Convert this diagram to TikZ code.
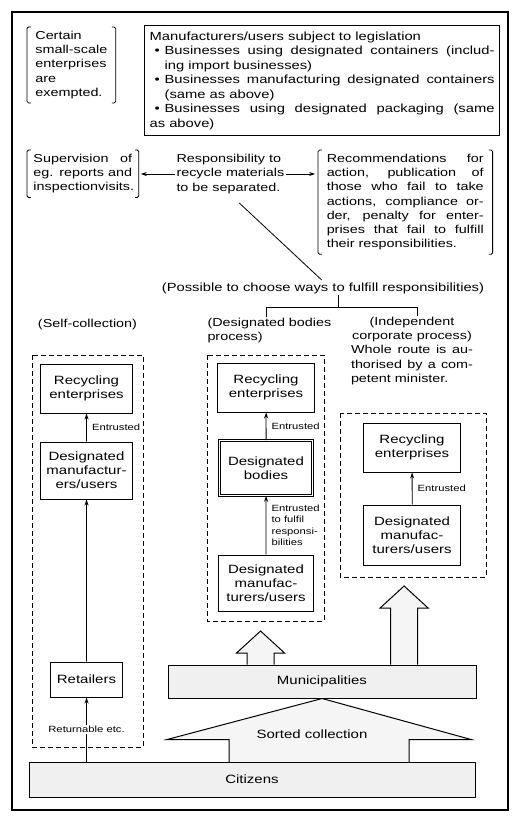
\documentclass[tikz,border=0pt]{standalone}
\usepackage{fontspec}
\setmainfont{Liberation Sans}
\usetikzlibrary{arrows.meta,calc,backgrounds}
\setlength{\parindent}{0pt}
\tolerance=10000
\hbadness=10000
\hyphenpenalty=10000

\newcommand\txtfont{\fontsize{11.5}{14.2}\selectfont}
\newcommand\boxfont{\fontsize{12}{14}\selectfont}
\newcommand\legalfont{\fontsize{11.8}{14.5}\selectfont}
\newcommand\tagfont{\fontsize{9}{11.5}\selectfont}

\tikzset{>={Stealth[length=6pt,width=4pt]}}
\tikzset{
    outerframe/.style={line width=1.3pt},
    unit/.style={draw,line width=1pt,align=center,font=\boxfont,minimum width=73pt,minimum height=49pt,inner sep=1pt},
    twin/.style={unit,line width=0.8pt,double,double distance=1.6pt},
    textblock/.style={align=left,font=\txtfont,inner sep=1pt},
    bracketed/.style={font=\txtfont,inner ysep=4pt},
    brk/.style={line width=0.8pt,rounded corners=1.5pt},
    groupline/.style={line width=0.9pt,dash pattern=on 5pt off 3pt},
    stipple/.style={draw,line width=1pt,fill=black!6,font=\boxfont},
    hollow/.style={line width=1pt,fill=black!4},
    flow/.style={->,line width=0.8pt},
    tag/.style={font=\tagfont,inner sep=1pt,align=left},
}

\newcommand\brackets[1]{%
    \draw[brk] ([xshift=3pt]#1.north west) -- (#1.north west) -- (#1.south west) -- ([xshift=3pt]#1.south west);
    \draw[brk] ([xshift=-3pt]#1.north east) -- (#1.north east) -- (#1.south east) -- ([xshift=-3pt]#1.south east);
}
\newcommand\fatarrow[2]{%
    \draw[hollow] ($(#2)+(-13.5,0)$) |- ($(#1)+(-24,22)$) -- (#1) -- ($(#1)+(24,22)$) -| ($(#2)+(13.5,0)$);
}

\begin{document}
\begin{tikzpicture}[x=0.8pt,y=-1pt,xscale=1.25,every node/.append style={transform shape}]
    \useasboundingbox (0,0) rectangle (520,823);
    \draw[outerframe] (12,12) rectangle (508,810);

    \node[bracketed,align=left,inner xsep=6.5pt,anchor=north west] (exempt) at (27,27)
        {Certain\\small-scale\\enterprises\\are\\exempted.};
    \brackets{exempt}
    \node[draw,line width=1pt,font=\legalfont,text width=276pt,align=justify,inner xsep=4pt,inner ysep=3pt,minimum height=110pt,anchor=north west] (legal) at (144,25)
        {Manufacturers/users subject to legislation\par
        \hangindent=12pt\hangafter=1\makebox[12pt][c]{\textbullet}Businesses using designated containers (includ-\linebreak ing import businesses)\par
        \hangindent=12pt\hangafter=1\makebox[12pt][c]{\textbullet}Businesses manufacturing designated containers\linebreak (same as above)\par
        \hangindent=12pt\hangafter=1\makebox[12pt][c]{\textbullet}Businesses using designated packaging (same\linebreak as above)};

    \node[bracketed,text width=79pt,align=justify,inner xsep=5pt,anchor=north west] (superv) at (27,150)
        {Supervision of\linebreak eg. reports and\linebreak inspectionvisits.};
    \brackets{superv}
    \node[textblock,anchor=west] (resp) at (175,174) {Responsibility to\\recycle materials\\to be separated.};
    \node[bracketed,text width=125.6pt,align=justify,inner xsep=6.8pt,anchor=north west] (recom) at (318,150)
        {Recommendations for\linebreak action, publication of\linebreak those who fail to take\linebreak actions, compliance or-\linebreak der, penalty for enter-\linebreak prises that fail to fulfill\linebreak their responsibilities.};
    \brackets{recom}
    \draw[flow,shorten >=2pt] (resp.west) -- (resp.west -| superv.east);
    \draw[flow,shorten >=3pt] (resp.east) -- (resp.east -| recom.west);

    \node[textblock,font=\legalfont] (choice) at (323,288) {(Possible to choose ways to fulfill responsibilities)};
    \draw[line width=0.8pt,shorten <=12pt,shorten >=2pt] (resp.south) -- (choice.north);

    \node[textblock] (selfc) at (87.5,325) {(Self-collection)};
    \node[textblock,anchor=north west] (desig) at (206,317) {(Designated bodies\\process)};
    \node[textblock,text width=97.6pt,align=justify,anchor=north] (indep) at (412,316)
        {{\centering (Independent\\corporate process)\par}Whole route is au-\linebreak thorised by a com-\linebreak petent minister.};

    \coordinate (stem) at (338,307);
    \coordinate (forkL) at (266,307);
    \coordinate (forkR) at (417,307);
    \draw[line width=0.8pt] (choice.south -| stem) -- (stem);
    \draw[line width=0.8pt] (forkL |- desig.north) -- (forkL) -- (forkR) -- (forkR |- indep.north);

    \draw[groupline] (32,355) rectangle (143,747);
    \draw[groupline] (207,355) rectangle (324,621);
    \draw[groupline] (340,413) rectangle (486,577);

    \node[unit] (lrecyc) at (86.5,388.5) {Recycling\\enterprises};
    \node[unit,minimum height=57pt] (lmanu) at (86.5,470.5) {Designated\\manufactur-\\ers/users};
    \node[unit,minimum width=57.6pt,minimum height=35pt] (retail) at (86.5,679.5) {Retailers};

    \node[unit,minimum width=77pt] (mrecyc) at (266,387.5) {Recycling\\enterprises};
    \node[twin,minimum width=74.2pt,minimum height=54.8pt] (bodies) at (266,468) {Designated\\bodies};
    \node[unit,minimum width=76pt,minimum height=56pt] (mmanu) at (266,583) {Designated\\manufac-\\turers/users};

    \node[unit,minimum width=77.6pt] (rrecyc) at (412,447.5) {Recycling\\enterprises};
    \node[unit,minimum width=77.6pt,minimum height=60pt] (rmanu) at (412,535) {Designated\\manufac-\\turers/users};

    \node[stipple,minimum width=246.4pt,minimum height=33pt] (muni) at (322,681.5) {Municipalities};
    \node[stipple,minimum width=356.8pt,minimum height=35pt] (cit) at (252,779.5) {Citizens};

    \coordinate (midtip) at (260.5,631);
    \coordinate (indtip) at (404,586);
    \coordinate (midfoot) at (midtip |- muni.north);
    \coordinate (indfoot) at (indtip |- muni.north);
    \begin{scope}[on background layer]
        \fatarrow{midtip}{midfoot}
        \fatarrow{indtip}{indfoot}
        \draw[hollow] (muni.south) -- ++(-155,41) -- ++(62,0) -- ++(0,23) -- ++(180,0) -- ++(0,-23) -- ++(62,0) -- cycle;
    \end{scope}
    \node[textblock,font=\boxfont] (sorted) at (312,734) {Sorted collection};

    \draw[flow] (retail.south |- cit.north) -- (retail.south) node[tag,midway,fill=white] {Returnable etc.};
    \draw[flow] (retail) -- (lmanu);
    \draw[flow] (lmanu) -- (lrecyc) node[tag,midway,right=3pt] {Entrusted};
    \draw[flow] (mmanu) -- (bodies) node[tag,midway,right=3pt] {Entrusted\\to fulfil\\responsi-\\bilities};
    \draw[flow] (bodies) -- (mrecyc) node[tag,midway,right=3pt] {Entrusted};
    \draw[flow] (rmanu) -- (rrecyc) node[tag,midway,right=3pt] {Entrusted};
\end{tikzpicture}
\end{document}
